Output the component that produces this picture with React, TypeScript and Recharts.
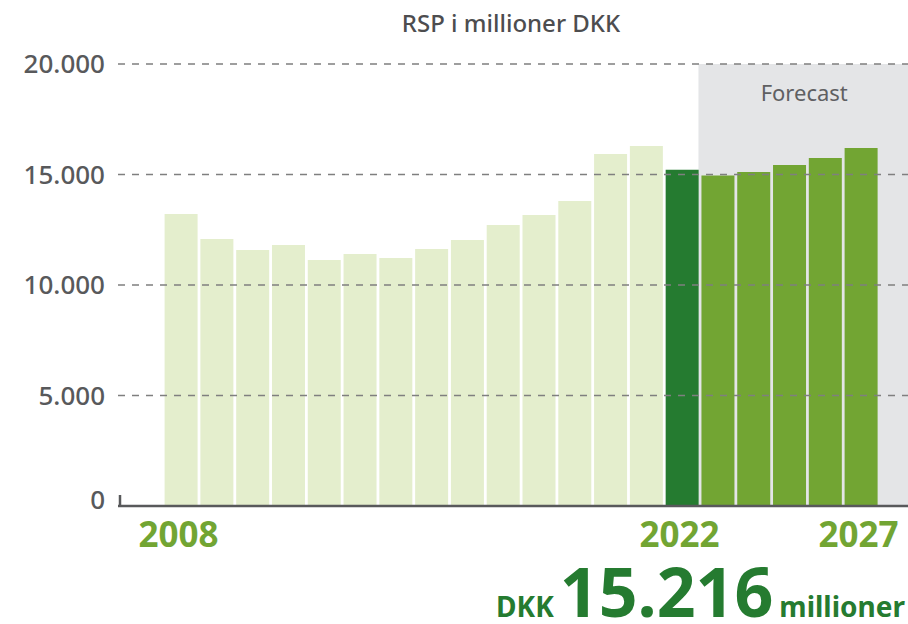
// RSP i millioner DKK – søjlediagram 2008-2027 med forecast-felt
import React from 'react';
import { Bar, BarChart, Cell, ReferenceArea, ReferenceLine, XAxis, YAxis } from 'recharts';

const years = [
  '2008', '2009', '2010', '2011', '2012', '2013', '2014', '2015', '2016', '2017',
  '2018', '2019', '2020', '2021', '2022', '2023', '2024', '2025', '2026', '2027',
];
const rsp = [
  13210, 12080, 11580, 11810, 11130, 11400, 11220, 11630, 12040, 12720,
  13170, 13800, 15930, 16290, 15216, 14950, 15110, 15430, 15750, 16200,
];
const yTicks = [0, 5000, 10000, 15000, 20000];
const gridLines = [5000, 10000, 15000, 20000];
const xLabels = ['2008', '2022', '2027'];
const CURRENT_YEAR = '2022';
const FORECAST_FROM = '2023';
const LAST_YEAR = '2027';

const data = years.map((year, i) => ({ year, value: rsp[i] }));
const current = data.find(d => d.year === CURRENT_YEAR)!;

const FONT = '"Noto Sans", "Open Sans", sans-serif';
const INK = '#58595b';
const LIGHT = '#e4eecd';
const DARK = '#257b30';
const GREEN = '#72a533';
const W = 908;
const H = 624;
const Y_AXIS_W = 118;
const X_AXIS_H = 118;
const PAD_L = 45.6;
const PAD_R = 28.6;

const fmt = (v: number) => String(v).replace(/\B(?=(\d{3})+(?!\d))/g, '.');

const barColor = (year: string) =>
  year === CURRENT_YEAR ? DARK : year >= FORECAST_FROM ? GREEN : LIGHT;

function YTick({ x, y, payload }: any) {
  return (
    <text x={x} y={y} dy={payload.value === 0 ? 3 : 9} textAnchor="end"
      fill={INK} fontSize={26} fontWeight={500} fontFamily={FONT}>
      {fmt(payload.value)}
    </text>
  );
}

function XTick({ x, y, payload }: any) {
  if (!xLabels.includes(payload.value)) return null;
  return (
    <text x={x} y={y} dy={41} dx={-3} textAnchor="middle"
      fill={GREEN} fontSize={35} fontWeight={700} fontFamily={FONT}>
      {payload.value}
    </text>
  );
}

// grå baggrund for forecast, trukket helt ud til højre kant
function ForecastShape(p: any) {
  const w = p.width + PAD_R;
  return (
    <g>
      <rect x={p.x - 2} y={p.y} width={w + 2} height={p.height} fill="#e4e5e7" />
      <text x={p.x + w / 2} y={p.y + 37} textAnchor="middle"
        fill="#5f6062" fontSize={22} fontFamily={FONT}>Forecast</text>
    </g>
  );
}

export default function App() {
  const base = H - X_AXIS_H;
  return (
    <div style={{ position: 'absolute', left: 0, top: 0, width: W, height: H, background: '#fff' }}>
      <BarChart width={W} height={H} data={data}
        margin={{ top: 64, right: 0, bottom: 0, left: 0 }}>
        <ReferenceArea x1={FORECAST_FROM} x2={LAST_YEAR} y1={0} y2={20000}
          shape={<ForecastShape />} />
        <XAxis dataKey="year" interval={0} height={X_AXIS_H} tickSize={0} tickMargin={0}
          padding={{ left: PAD_L, right: PAD_R }} tickLine={false}
          axisLine={{ stroke: INK, strokeWidth: 2.5 }} tick={<XTick />} />
        <YAxis domain={[0, 20000]} ticks={yTicks} width={Y_AXIS_W} tickSize={0} tickMargin={13}
          axisLine={false} tickLine={false} tick={<YTick />} />
        <Bar dataKey="value" barSize={33} isAnimationActive={false}>
          {data.map(d => <Cell key={d.year} fill={barColor(d.year)} />)}
        </Bar>
        {gridLines.map(v => (
          <ReferenceLine key={v} y={v} stroke="#7f7f7f" strokeWidth={1.5} strokeDasharray="7 7" />
        ))}
      </BarChart>
      <svg width={W} height={H} style={{ position: 'absolute', left: 0, top: 0, pointerEvents: 'none' }}>
        <line x1={Y_AXIS_W + 2} x2={Y_AXIS_W + 2} y1={base - 11} y2={base + 1} stroke={INK} strokeWidth={2.5} />
        <text x={511} y={32} textAnchor="middle" fill="#4d4d4f" fontSize={24} fontWeight={500}
          fontFamily={FONT}>RSP i millioner DKK</text>
        <text x={905} y={617} textAnchor="end" fill={DARK} fontWeight={700} fontFamily={FONT}>
          <tspan fontSize={28}>DKK</tspan>
          <tspan fontSize={68} dx={6}>{fmt(current.value)}</tspan>
          <tspan fontSize={28} dx={6}>millioner</tspan>
        </text>
      </svg>
    </div>
  );
}
